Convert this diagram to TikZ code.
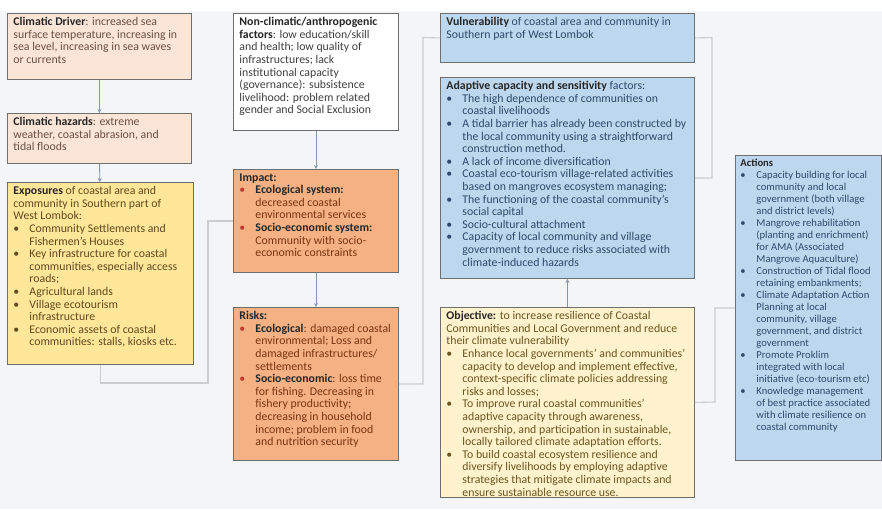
\documentclass[tikz,border=0pt]{standalone}
\usepackage{fontspec}
\setmainfont{Carlito}
\usetikzlibrary{arrows.meta}

\definecolor{peach}{HTML}{FBE5D6}
\definecolor{expoyel}{HTML}{FFE699}
\definecolor{impor}{HTML}{F4B183}
\definecolor{vulblue}{HTML}{BDD7EE}
\definecolor{objyel}{HTML}{FFF2CC}
\definecolor{bggray}{HTML}{F4F5F7}
\definecolor{boxgray}{HTML}{6E6E6E}
\definecolor{arrblue}{HTML}{8496B0}
\definecolor{drvtxt}{HTML}{6B4F45}
\definecolor{expotxt}{HTML}{5C4B1E}
\definecolor{imptxt}{HTML}{7A3510}
\definecolor{bluetxt}{HTML}{2E4A6B}
\definecolor{objtxt}{HTML}{6B5520}
\definecolor{bulred}{HTML}{C0392B}

\newcommand{\bul}{\makebox[16pt][l]{\textbullet}}
\newcommand{\rbul}{\makebox[16pt][l]{\textcolor{bulred}{\textbullet}}}
\newcommand{\ind}{\hspace*{16pt}}
\newcommand{\hd}[1]{\textcolor{black!85}{\textbf{#1}}}
\newcommand{\boxtext}[3]{\parbox[t][\dimexpr#2pt-8pt\relax][t]{\dimexpr#1pt-12pt\relax}{\raggedright#3}}

\begin{document}
\begin{tikzpicture}[x=1pt, y=-1pt,
    box/.style={draw=boxgray, line width=0.9pt, inner xsep=6pt, inner ysep=4pt,
      anchor=north west, font=\fontsize{11.8}{12.6}\selectfont},
    arr/.style={draw=arrblue, line width=0.9pt, -{Stealth[length=4pt,width=4pt]}},
    link/.style={draw=black!20, line width=1.1pt}]
    \useasboundingbox (0,0) rectangle (882,509);
    \fill[white] (0,0) rectangle (882,509);
    \fill[bggray] (0,11) rectangle (882,509);
%
    \node[box, fill=peach, text=drvtxt] (driver) at (7,13) {\boxtext{184}{66}{%
      \hd{Climatic Driver}: increased sea\\
      surface temperature, increasing in\\
      sea level, increasing in sea waves\\
      or currents}};
    \node[box, fill=peach, text=drvtxt] (hazards) at (7,113) {\boxtext{184}{50}{%
      \hd{Climatic hazards}: extreme\\
      weather, coastal abrasion, and\\
      tidal floods}};
    \node[box, fill=expoyel, text=expotxt] (expo) at (7,182) {\boxtext{186}{182}{%
      \hd{Exposures} of coastal area and\\
      community in Southern part of\\
      West Lombok:\\
      \bul Community Settlements and\\
      \ind Fishermen's Houses\\
      \bul Key infrastructure for coastal\\
      \ind communities, especially access\\
      \ind roads;\\
      \bul Agricultural lands\\
      \bul Village ecotourism\\
      \ind infrastructure\\
      \bul Economic assets of coastal\\
      \ind communities: stalls, kiosks etc.}};
%
    \node[box, fill=white, text=black!75] (nonclim) at (233,13) {\boxtext{165}{117}{%
      \hd{Non-climatic/anthropogenic}\\
      \hd{factors}: low education/skill\\
      and health; low quality of\\
      infrastructures; lack\\
      institutional capacity\\
      (governance): subsistence\\
      livelihood: problem related\\
      gender and Social Exclusion}};
    \node[box, fill=impor, text=imptxt] (impact) at (233,169) {\boxtext{165}{103}{%
      \hd{Impact:}\\
      \rbul\hd{Ecological system:}\\
      \ind decreased coastal\\
      \ind environmental services\\
      \rbul\hd{Socio-economic system:}\\
      \ind Community with socio-\\
      \ind economic constraints}};
    \node[box, fill=impor, text=imptxt] (risks) at (233,307) {\boxtext{165}{153}{%
      \hd{Risks:}\\
      \rbul\hd{Ecological}: damaged coastal\\
      \ind environmental; Loss and\\
      \ind damaged infrastructures/\\
      \ind settlements\\
      \rbul\hd{Socio-economic}: loss time\\
      \ind for fishing. Decreasing in\\
      \ind fishery productivity;\\
      \ind decreasing in household\\
      \ind income; problem in food\\
      \ind and nutrition security}};
%
    \node[box, fill=vulblue, text=bluetxt] (vuln) at (440,13) {\boxtext{254}{49}{%
      \hd{Vulnerability} of coastal area and community in\\
      Southern part of West Lombok}};
    \node[box, fill=vulblue, text=bluetxt] (adapt) at (440,77) {\boxtext{254}{201}{%
      \hd{Adaptive capacity and sensitivity} factors:\\
      \bul The high dependence of communities on\\
      \ind coastal livelihoods\\
      \bul A tidal barrier has already been constructed by\\
      \ind the local community using a straightforward\\
      \ind construction method.\\
      \bul A lack of income diversification\\
      \bul Coastal eco-tourism village-related activities\\
      \ind based on mangroves ecosystem managing;\\
      \bul The functioning of the coastal community's\\
      \ind social capital\\
      \bul Socio-cultural attachment\\
      \bul Capacity of local community and village\\
      \ind government to reduce risks associated with\\
      \ind climate-induced hazards}};
    \node[box, fill=objyel, text=objtxt] (obj) at (440,307) {\boxtext{254}{190}{%
      \hd{Objective:} to increase resilience of Coastal\\
      Communities and Local Government and reduce\\
      their climate vulnerability\\
      \bul Enhance local governments' and communities'\\
      \ind capacity to develop and implement effective,\\
      \ind context-specific climate policies addressing\\
      \ind risks and losses;\\
      \bul To improve rural coastal communities'\\
      \ind adaptive capacity through awareness,\\
      \ind ownership, and participation in sustainable,\\
      \ind locally tailored climate adaptation efforts.\\
      \bul To build coastal ecosystem resilience and\\
      \ind diversify livelihoods by employing adaptive\\
      \ind strategies that mitigate climate impacts and\\
      \ind ensure sustainable resource use.}};
%
    \node[box, fill=vulblue, text=bluetxt, inner xsep=5pt, font=\fontsize{10.6}{12}\selectfont] (actions) at (735,155) {\boxtext{148}{305}{%
      \hd{Actions}\\
      \bul Capacity building for local\\
      \ind community and local\\
      \ind government (both village\\
      \ind and district levels)\\
      \bul Mangrove rehabilitation\\
      \ind (planting and enrichment)\\
      \ind for AMA (Associated\\
      \ind Mangrove Aquaculture)\\
      \bul Construction of Tidal flood\\
      \ind retaining embankments;\\
      \bul Climate Adaptation Action\\
      \ind Planning at local\\
      \ind community, village\\
      \ind government, and district\\
      \ind government\\
      \bul Promote Proklim\\
      \ind integrated with local\\
      \ind initiative (eco-tourism etc)\\
      \bul Knowledge management\\
      \ind of best practice associated\\
      \ind with climate resilience on\\
      \ind coastal community}};
%
    \draw[arr] (driver) -- (hazards);
    \draw[arr] (hazards) -- (expo);
    \draw[arr] (nonclim) -- (impact);
    \draw[arr] (impact) -- (risks);
    \draw[arr] (obj) -- (adapt);
%
    \coordinate (expobend) at (208,383);
    \coordinate (riskbend) at (423,37.5);
    \coordinate (vulnbend) at (712,37.5);
    \coordinate (objbend) at (715,402);
    \draw[link] (expo.south) |- (expobend) |- (impact.west);
    \draw[link] (risks.east) -| (riskbend) -- (vuln.west);
    \draw[link] (vuln.east) -- (vulnbend) |- (adapt.east);
    \draw[link] (obj.east) -- (objbend) |- (actions.west);
  \end{tikzpicture}
\end{document}
